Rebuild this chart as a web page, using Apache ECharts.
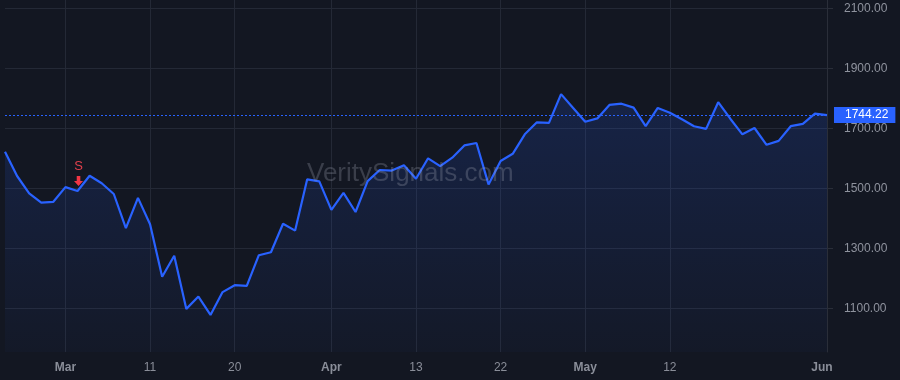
<!DOCTYPE html>
<html><head><meta charset="utf-8">
<script src="https://cdn.jsdelivr.net/npm/echarts@6/dist/echarts.min.js"></script>
<style>html,body{margin:0;padding:0;background:#131722;}#c{width:900px;height:380px;}</style>
</head><body><div id="c"></div>
<script>
var dates = [
 '2026-02-23','2026-02-24','2026-02-25','2026-02-26','2026-02-27',
 '2026-03-02','2026-03-03','2026-03-04','2026-03-05','2026-03-06',
 '2026-03-09','2026-03-10','2026-03-11','2026-03-12','2026-03-13',
 '2026-03-16','2026-03-17','2026-03-18','2026-03-19','2026-03-20',
 '2026-03-23','2026-03-24','2026-03-25','2026-03-26','2026-03-27',
 '2026-03-30','2026-03-31','2026-04-01','2026-04-02',
 '2026-04-06','2026-04-07','2026-04-08','2026-04-09','2026-04-10',
 '2026-04-13','2026-04-14','2026-04-15','2026-04-16','2026-04-17',
 '2026-04-20','2026-04-21','2026-04-22','2026-04-23','2026-04-24',
 '2026-04-27','2026-04-28','2026-04-29','2026-04-30','2026-05-01',
 '2026-05-04','2026-05-05','2026-05-06','2026-05-07','2026-05-08',
 '2026-05-11','2026-05-12','2026-05-13','2026-05-14','2026-05-15',
 '2026-05-18','2026-05-19','2026-05-20','2026-05-21','2026-05-22',
 '2026-05-26','2026-05-27','2026-05-28','2026-05-29','2026-06-01'
];
var prices = [
 1622,1541,1483,1452,1455,
 1504,1491,1542,1517,1481,
 1367,1468,1380,1205,1275,
 1098,1139,1078,1154,1177,
 1175,1277,1287,1382,1359,
 1530,1523,1428,1485,
 1421,1524,1561,1559,1577,
 1532,1600,1574,1602,1643,
 1651,1513,1591,1615,1680,
 1720,1718,1814,1768,1722,
 1733,1778,1782,1769,1707,
 1768,1752,1730,1707,1698,
 1787,1732,1680,1701,1645,
 1658,1707,1715,1749,1744.22
];
var xTickDates = ['2026-03-02','2026-03-11','2026-03-20','2026-04-01','2026-04-13','2026-04-22','2026-05-01','2026-05-12','2026-06-01'];
var xTickLabels = ['Mar','11','20','Apr','13','22','May','12','Jun'];
var xTickIsMonth = [true,false,false,true,false,false,true,false,true];
var yTicks = [1100,1300,1500,1700,1900,2100];
var lastPrice = 1744.22;
var signalDate = '2026-03-03';
var signalText = 'S';
var watermark = 'VeritySignals.com';

var chart = echarts.init(document.getElementById('c'), null, {renderer:'canvas'});
function isTick(idx){ return xTickDates.indexOf(dates[idx]) >= 0; }
var sigIdx = dates.indexOf(signalDate);
chart.setOption({
  backgroundColor: '#131722',
  animation: false,
  textStyle: {fontFamily: 'Liberation Sans, Arial, sans-serif'},
  graphic: [{
    type: 'text', left: 307, top: 161, z: 100, silent: true,
    style: {text: watermark, fontSize: 26, fill: 'rgba(160,165,180,0.28)', fontFamily: 'Liberation Sans, Arial, sans-serif'}
  }],
  grid: {left: 5, right: 73, top: 0, bottom: 28},
  xAxis: {
    type: 'category', data: dates, boundaryGap: false,
    axisLine: {show: false}, axisTick: {show: false},
    splitLine: {show: true, interval: function(i){ return isTick(i); }, lineStyle: {color: '#242936', width: 1}},
    axisLabel: {
      interval: function(i){ return isTick(i); },
      margin: 10,
      formatter: function(v){
        var k = xTickDates.indexOf(v);
        if (k < 0) return '';
        if (xTickLabels[k] === 'Jun') return '{j|' + xTickLabels[k] + '}';
        return (xTickIsMonth[k] ? '{m|' : '{n|') + xTickLabels[k] + '}';
      },
      rich: {
        m: {fontSize: 12, fontWeight: 'bold', color: '#8a8e99'},
        j: {fontSize: 12, fontWeight: 'bold', color: '#8a8e99', padding: [0, 10, 0, 0]},
        n: {fontSize: 12, color: '#8a8e99'}
      }
    }
  },
  yAxis: {
    type: 'value', position: 'right', min: 954.3, max: 2127.7, scale: true,
    axisLine: {show: true, lineStyle: {color: '#2a2e39'}},
    axisTick: {show: true, length: 6, customValues: yTicks, lineStyle: {color: '#2a2e39'}},
    splitLine: {show: true, lineStyle: {color: '#242936', width: 1}},
    axisLabel: {customValues: yTicks, margin: 17, fontSize: 12, color: '#8f939e',
      formatter: function(v){ return v.toFixed(2); }}
  },
  series: [{
    type: 'line', data: prices, symbol: 'none', z: 3,
    lineStyle: {color: '#2962ff', width: 2.2},
    areaStyle: {color: new echarts.graphic.LinearGradient(0,0,0,1,[
      {offset: 0, color: 'rgba(41,98,255,0.24)'},
      {offset: 1, color: 'rgba(41,98,255,0.04)'}
    ])},
    markLine: {
      silent: true, symbol: 'none',
      lineStyle: {color: '#2962ff', type: [2,2], width: 1},
      label: {show: true, position: 'end', distance: 7, formatter: function(){ return lastPrice.toFixed(2); },
        color: '#ffffff', backgroundColor: '#2962ff', fontSize: 12, lineHeight: 12, padding: [2,7,2,11]},
      data: [{yAxis: lastPrice}]
    },
    markPoint: {
      silent: true,
      data: [{
        coord: [sigIdx, prices[sigIdx]],
        symbol: 'path://M3,0 L7,0 L7,5 L10,5 L5,10 L0,5 L3,5 Z',
        symbolSize: [9, 10], symbolOffset: [1, -10],
        itemStyle: {color: '#f23645'},
        label: {show: true, position: 'top', distance: 3, formatter: signalText, color: '#e0404c', fontSize: 13}
      }]
    }
  }]
});
</script></body></html>
